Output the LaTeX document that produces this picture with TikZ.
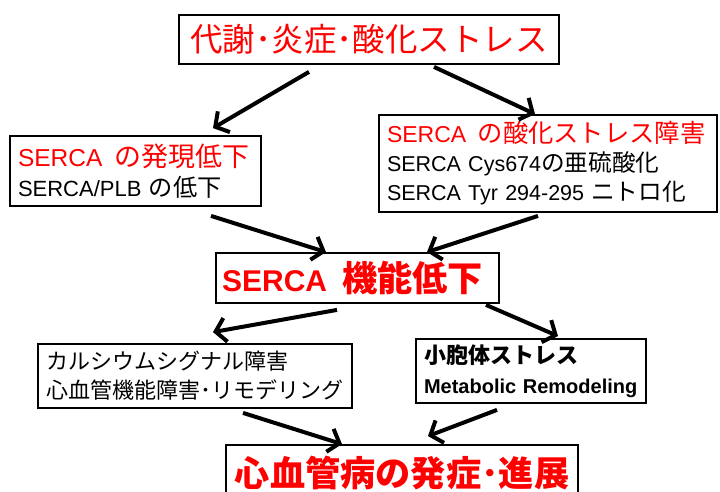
\documentclass[tikz,border=0pt]{standalone}
\usepackage{fontspec}
\setmainfont{Liberation Sans}
\newfontfamily\jp{Noto Sans CJK JP}[Scale=1.1]
\usepackage{tikz}
\usetikzlibrary{arrows.meta}

\begin{document}
\begin{tikzpicture}[x=1pt, y=-1pt,
    box/.style = {draw, line width=1.8pt, inner xsep=8pt, inner ysep=0pt, align=left},
    headbox/.style = {draw, line width=1.8pt, inner sep=0pt, align=center, text=red},
    arr/.style = {line width=4pt, -{Straight Barb[length=10pt, width=24pt]}}]
    \useasboundingbox (0, 0) rectangle (720, 491);
    \clip (0, 0) rectangle (720, 491);
    % causes
    \node[headbox, minimum width=380pt, minimum height=49pt,
          font=\jp\fontsize{29.5}{30}\selectfont] (cause) at (369, 39.5) {代謝･炎症･酸化ストレス};
    \node[box, text width=235pt, minimum height=70pt,
          font=\fontsize{22}{30}\selectfont] (expr) at (135.5, 171)
        {{\fontsize{24.5}{30}\selectfont\color{red}SERCA\enspace{\jp の発現低下}}\\
         SERCA/PLB {\jp の低下}};
    \node[box, text width=322pt, minimum height=97pt,
          font=\fontsize{21.5}{29}\selectfont] (oxid) at (548, 163.5)
        {{\fontsize{23}{29}\selectfont\color{red}SERCA\enspace{\jp の酸化ストレス障害}}\\
         SERCA Cys674{\jp の亜硫酸化}\\
         SERCA Tyr 294-295 {\jp ニトロ化}};
    % SERCA
    \node[headbox, minimum width=283pt, minimum height=50pt,
          font=\bfseries\fontsize{30}{32}\selectfont] (serca) at (357.5, 278)
        {SERCA\enspace{\jp\fontsize{32}{32}\selectfont 機能低下}\hspace{10pt}};
    % results
    \node[box, text width=298pt, minimum height=64pt,
          font=\jp\fontsize{20}{29}\selectfont] (calc) at (195, 376)
        {カルシウムシグナル障害\\心血管機能障害･リモデリング};
    \node[box, text width=214pt, minimum height=64pt,
          font=\bfseries\fontsize{20}{29.5}\selectfont] (er) at (531, 371)
        {{\jp 小胞体ストレス}\\Metabolic Remodeling};
    \node[headbox, minimum width=352pt, minimum height=56pt,
          font=\jp\bfseries\fontsize{32}{32}\selectfont] (cvd) at (402, 473) {心血管病の発症･進展};
    % arrows
    \draw[arr] ([xshift=-60pt, yshift=-7pt]cause.south) -- ([xshift=77.5pt, yshift=7pt]expr.north);
    \draw[arr] ([xshift=65pt, yshift=-2pt]cause.south) -- ([xshift=-13pt]oxid.north);
    \draw[arr] ([xshift=75.5pt, yshift=-9pt]expr.south) -- ([xshift=-31.5pt]serca.north);
    \draw[arr] ([xshift=-10pt, yshift=-3pt]oxid.south) -- ([xshift=69.5pt]serca.north);
    \draw[arr] ([xshift=-20.5pt, yshift=-6pt]serca.south) -- ([xshift=18pt, yshift=11pt]calc.north);
    \draw[arr] ([xshift=128.5pt, yshift=-1pt]serca.south) -- ([xshift=27pt, yshift=2pt]er.north);
    \draw[arr] ([xshift=48pt, yshift=-4pt]calc.south) -- ([xshift=-60pt]cvd.north);
    \draw[arr] ([xshift=-34pt, yshift=-6pt]er.south) -- ([xshift=26pt, yshift=8pt]cvd.north);
\end{tikzpicture}
\end{document}
